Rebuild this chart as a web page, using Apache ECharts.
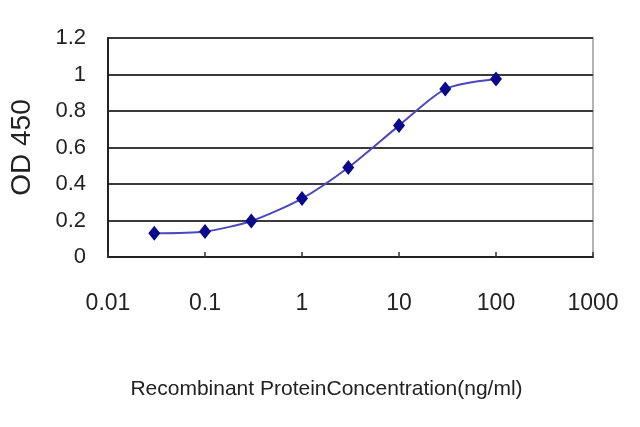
<!DOCTYPE html>
<html><head><meta charset="utf-8">
<script src="https://cdn.jsdelivr.net/npm/echarts@6/dist/echarts.min.js"></script>
<style>html,body{margin:0;padding:0;background:#fff}#c{width:640px;height:427px}</style>
</head><body><div id="c"></div>
<script>
const concentrations = [0.03, 0.1, 0.3, 1, 3, 10, 30, 100];
const odValues = [0.13, 0.14, 0.197, 0.32, 0.49, 0.72, 0.92, 0.975];
const xTickLabels = ['0.01', '0.1', '1', '10', '100', '1000'];
const yTickLabels = ['0', '0.2', '0.4', '0.6', '0.8', '1', '1.2'];

const chart = echarts.init(document.getElementById('c'), null, {renderer: 'canvas'});
chart.setOption({
  animation: false,
  grid: {left: 108, right: 47, top: 38, bottom: 170, show: true, borderColor: '#9a9a9a', borderWidth: 1.5},
  xAxis: {
    type: 'log', logBase: 10, min: 0.01, max: 1000,
    name: 'Recombinant ProteinConcentration(ng/ml)',
    nameLocation: 'middle', nameGap: 122,
    nameTextStyle: {fontFamily: 'Liberation Sans', fontSize: 21, color: '#222', padding: [0, 48, 0, 0]},
    axisLine: {show: true, onZero: false, lineStyle: {color: '#222', width: 2}},
    axisTick: {show: true, inside: true, length: 5, lineStyle: {color: '#333', width: 1.5}},
    axisLabel: {margin: 35, fontFamily: 'Liberation Sans', fontSize: 23, color: '#222',
      formatter: v => { const i = Math.round(Math.log10(v)) + 2; return xTickLabels[i] !== undefined ? xTickLabels[i] : ''; }},
    splitLine: {show: false}, minorTick: {show: false}
  },
  yAxis: {
    type: 'value', min: 0, max: 1.2, interval: 0.2,
    name: 'OD 450', nameLocation: 'middle', nameGap: 72, nameRotate: 90,
    nameTextStyle: {fontFamily: 'Liberation Sans', fontSize: 28, color: '#222'},
    axisLine: {show: true, lineStyle: {color: '#222', width: 2}},
    axisTick: {show: false},
    axisLabel: {margin: 22, fontFamily: 'Liberation Sans', fontSize: 22, color: '#222',
      formatter: v => yTickLabels[Math.round(v / 0.2)]},
    splitLine: {show: true, lineStyle: {color: '#3a3a3a', width: 2}}
  },
  series: [{
    type: 'line',
    data: concentrations.map((c, i) => [c, odValues[i]]),
    smooth: 0.25,
    symbol: 'diamond', symbolSize: [12, 15],
    itemStyle: {color: '#0a0a8a'},
    lineStyle: {color: '#4a4ac0', width: 2}
  }]
});
</script></body></html>
